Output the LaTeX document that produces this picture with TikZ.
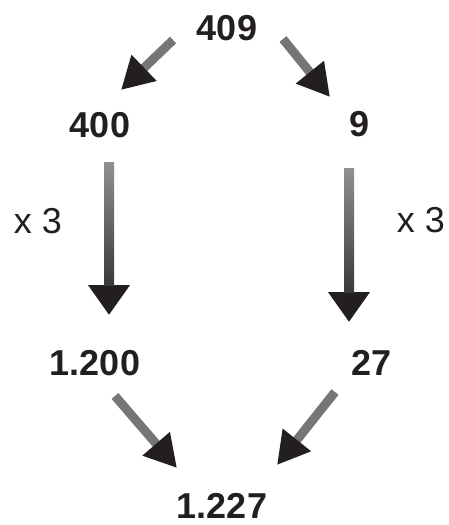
\documentclass[tikz,border=0pt]{standalone}
\usepackage{fontspec}
\setmainfont{Liberation Sans}
\usetikzlibrary{arrows.meta}

\definecolor{ink}{HTML}{231F20}
\definecolor{shaftgray}{HTML}{767677}
\definecolor{shafttop}{HTML}{909092}
\definecolor{shaftbot}{HTML}{3A3A3B}

\begin{document}
\begin{tikzpicture}[x=1pt, y=-1pt,
    num/.style={inner sep=0pt, text=ink, font=\fontsize{36}{40}\selectfont\bfseries},
    times/.style={inner sep=0pt, text=ink, font=\fontsize{36}{40}\selectfont},
    slant/.style={line width=9pt, draw=shaftgray, -{Triangle[length=32pt, width=34pt, color=ink]}},
    down/.style={line width=10pt, draw=shaftbot, -{Triangle[length=30pt, width=40pt, color=ink]}},
    downshade/.style={top color=shafttop, bottom color=shaftbot}]
    \useasboundingbox (0,0) rectangle (448,525);

    % the numbers
    \node[num] (n409) at (227,28) {409};
    \node[num] (n400) at (100,125) {400};
    \node[num] (n9) at (360,124) {9};
    \node[num] (n1200) at (95,363) {1.200};
    \node[num] (n27) at (372,363) {27};
    \node[num] (n1227) at (222,506) {1.227};

    % the factors
    \node[times] (tl) at (38,221) {x 3};
    \node[times] (tr) at (421,220) {x 3};

    % split 409 into 400 and 9
    \draw[slant] ([shift={(-54,12)}]n409.center) -- ([shift={(21,-35)}]n400.center);
    \draw[slant] ([shift={(56,11)}]n409.center) -- ([shift={(-30,-27)}]n9.center);

    % multiply both parts by 3
    \coordinate (lt) at ([shift={(9,37)}]n400.center);
    \coordinate (lh) at ([shift={(14,-48)}]n1200.center);
    \coordinate (rt) at ([shift={(-11,44)}]n9.center);
    \coordinate (rh) at ([shift={(-23,-41)}]n27.center);
    \draw[down] (lt) -- (lh);
    \draw[down] (rt) -- (rh);
    \shade[downshade] ([xshift=-5pt]lt) rectangle ([xshift=5pt, yshift=30pt]lh);
    \shade[downshade] ([xshift=-5pt]rt) rectangle ([xshift=5pt, yshift=30pt]rh);

    % add the products
    \draw[slant] ([shift={(20,33)}]n1200.center) -- ([shift={(-45,-38)}]n1227.center);
    \draw[slant] ([shift={(-37,29)}]n27.center) -- ([shift={(55,-41)}]n1227.center);
\end{tikzpicture}
\end{document}
